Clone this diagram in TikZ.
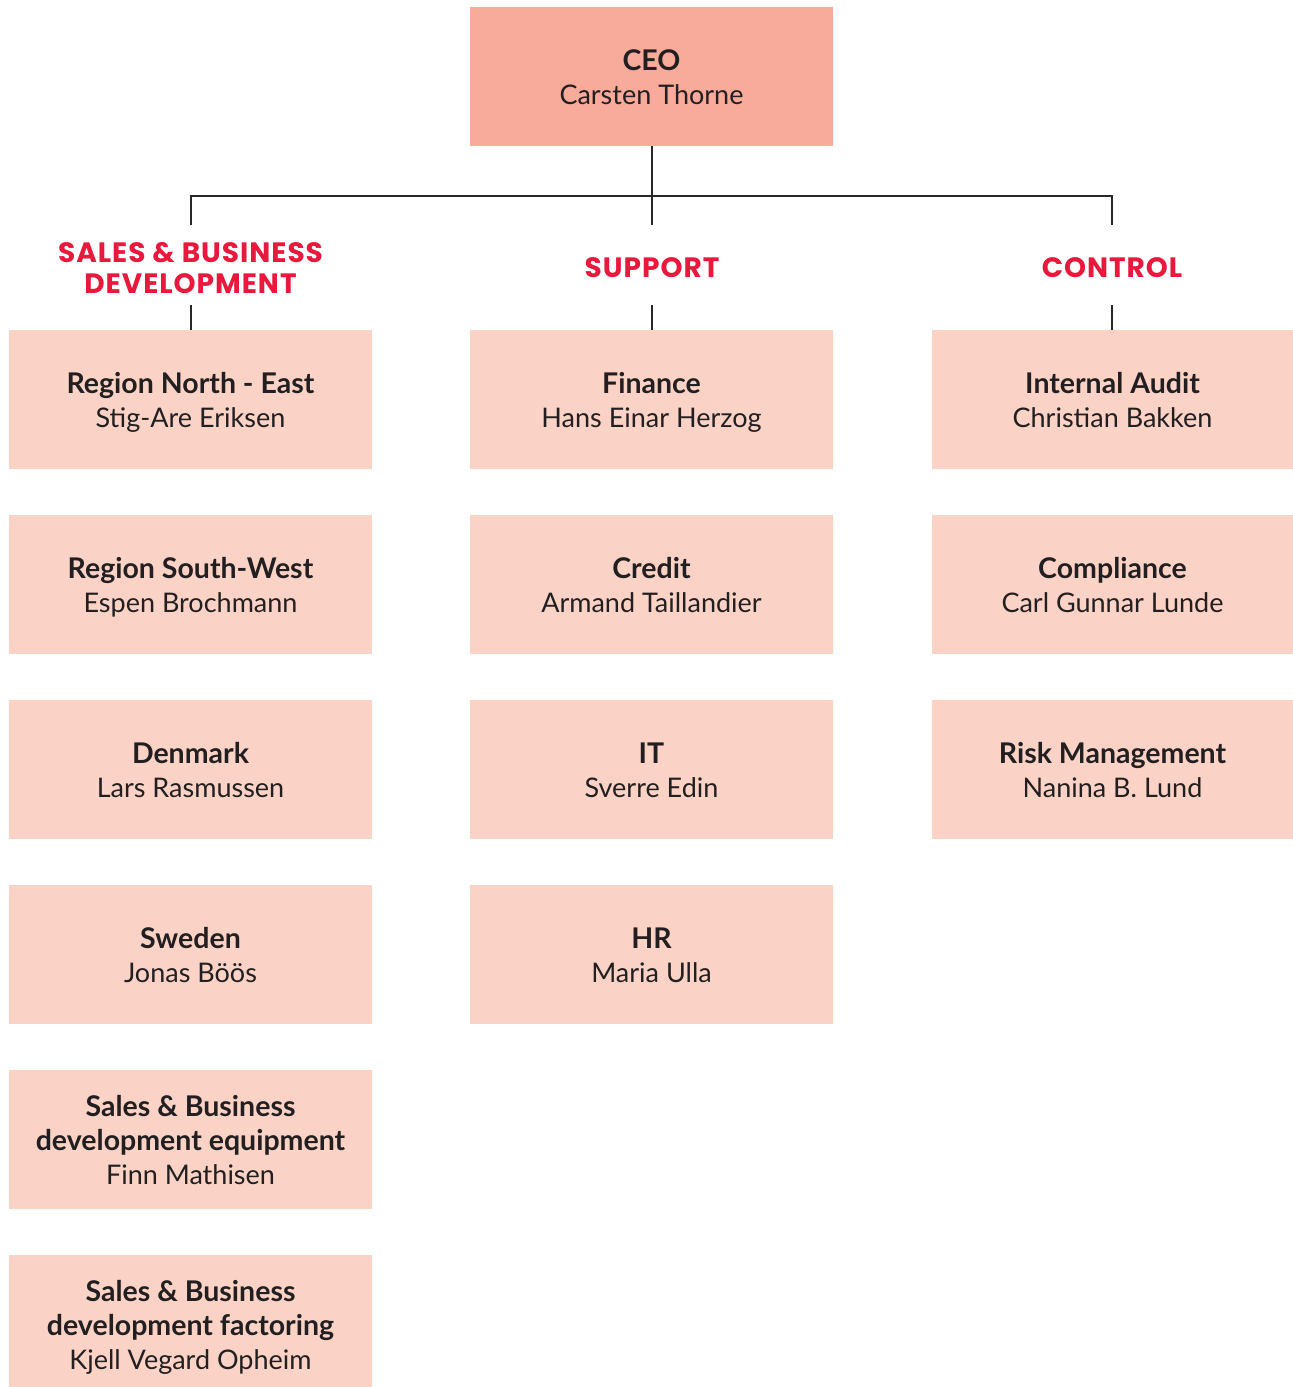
\documentclass[tikz,border=0pt]{standalone}
\usepackage{fontspec}
\setmainfont{Lato}
\newfontfamily\headfont{Poppins}[LetterSpace=3.5]
\definecolor{ceofill}{RGB}{248,170,155}
\definecolor{boxfill}{RGB}{250,211,198}
\definecolor{headred}{RGB}{232,25,60}
\definecolor{txt}{RGB}{35,31,32}
\definecolor{linec}{RGB}{40,40,40}
\newcommand{\lnstrut}{\rule[-6.5pt]{0pt}{34pt}}
\newcommand{\bl}[1]{{\fontsize{28.5}{34}\selectfont\bfseries #1}\lnstrut}
\newcommand{\nl}[1]{#1\lnstrut}
\tikzset{
  unitbox/.style={fill=boxfill, minimum width=363pt, minimum height=139pt, inner sep=0pt,
    align=center, text=txt, font=\fontsize{27}{34}\selectfont},
  ceobox/.style={unitbox, fill=ceofill},
  grouphead/.style={align=center, text=headred, font=\headfont\bfseries\fontsize{28}{30.5}\selectfont, inner sep=0pt},
  link/.style={draw=linec, line width=1.3pt}
}
\begin{document}
\begin{tikzpicture}[x=1pt,y=-1pt]
\useasboundingbox[fill=white] (0,0) rectangle (1293,1387);
\node[ceobox] (ceo) at (651.5,76.5) {\bl{CEO}\\\nl{Carsten Thorne}};
% column 1
\node[unitbox] (a1) at (190.5,399.5) {\bl{Region North - East}\\\nl{Stig-Are Eriksen}};
\node[unitbox] (a2) at (190.5,584.5) {\bl{Region South-West}\\\nl{Espen Brochmann}};
\node[unitbox] (a3) at (190.5,769.5) {\bl{Denmark}\\\nl{Lars Rasmussen}};
\node[unitbox] (a4) at (190.5,954.5) {\bl{Sweden}\\\nl{Jonas Böös}};
\node[unitbox] (a5) at (190.5,1139.5) {\bl{Sales \& Business}\\\bl{development equipment}\\\nl{Finn Mathisen}};
\node[unitbox] (a6) at (190.5,1324.5) {\bl{Sales \& Business}\\\bl{development factoring}\\\nl{Kjell Vegard Opheim}};
% column 2
\node[unitbox] (b1) at (651.5,399.5) {\bl{Finance}\\\nl{Hans Einar Herzog}};
\node[unitbox] (b2) at (651.5,584.5) {\bl{Credit}\\\nl{Armand Taillandier}};
\node[unitbox] (b3) at (651.5,769.5) {\bl{IT}\\\nl{Sverre Edin}};
\node[unitbox] (b4) at (651.5,954.5) {\bl{HR}\\\nl{Maria Ulla}};
% column 3
\node[unitbox, minimum width=361pt] (c1) at (1112.5,399.5) {\bl{Internal Audit}\\\nl{Christian Bakken}};
\node[unitbox, minimum width=361pt] (c2) at (1112.5,584.5) {\bl{Compliance}\\\nl{Carl Gunnar Lunde}};
\node[unitbox, minimum width=361pt] (c3) at (1112.5,769.5) {\bl{Risk Management}\\\nl{Nanina B. Lund}};
% headers
\node[grouphead] (h1) at (190.5,268) {SALES \& BUSINESS\\DEVELOPMENT};
\node[grouphead] (h2) at (652,268) {SUPPORT};
\node[grouphead] (h3) at (1112,268) {CONTROL};
% connector points
\coordinate (j) at (652,196);
\coordinate (t1) at (191,225);
\coordinate (t2) at (652,225);
\coordinate (t3) at (1112,225);
\coordinate (s1) at (191,305);
\coordinate (s2) at (652,305);
\coordinate (s3) at (1112,305);
\draw[link] (ceo.south -| j) -- (j);
\draw[link] (t1) |- (j) -| (t3);
\draw[link] (j) -- (t2);
\draw[link] (s1) -- (s1 |- a1.north);
\draw[link] (s2) -- (s2 |- b1.north);
\draw[link] (s3) -- (s3 |- c1.north);
\end{tikzpicture}
\end{document}
